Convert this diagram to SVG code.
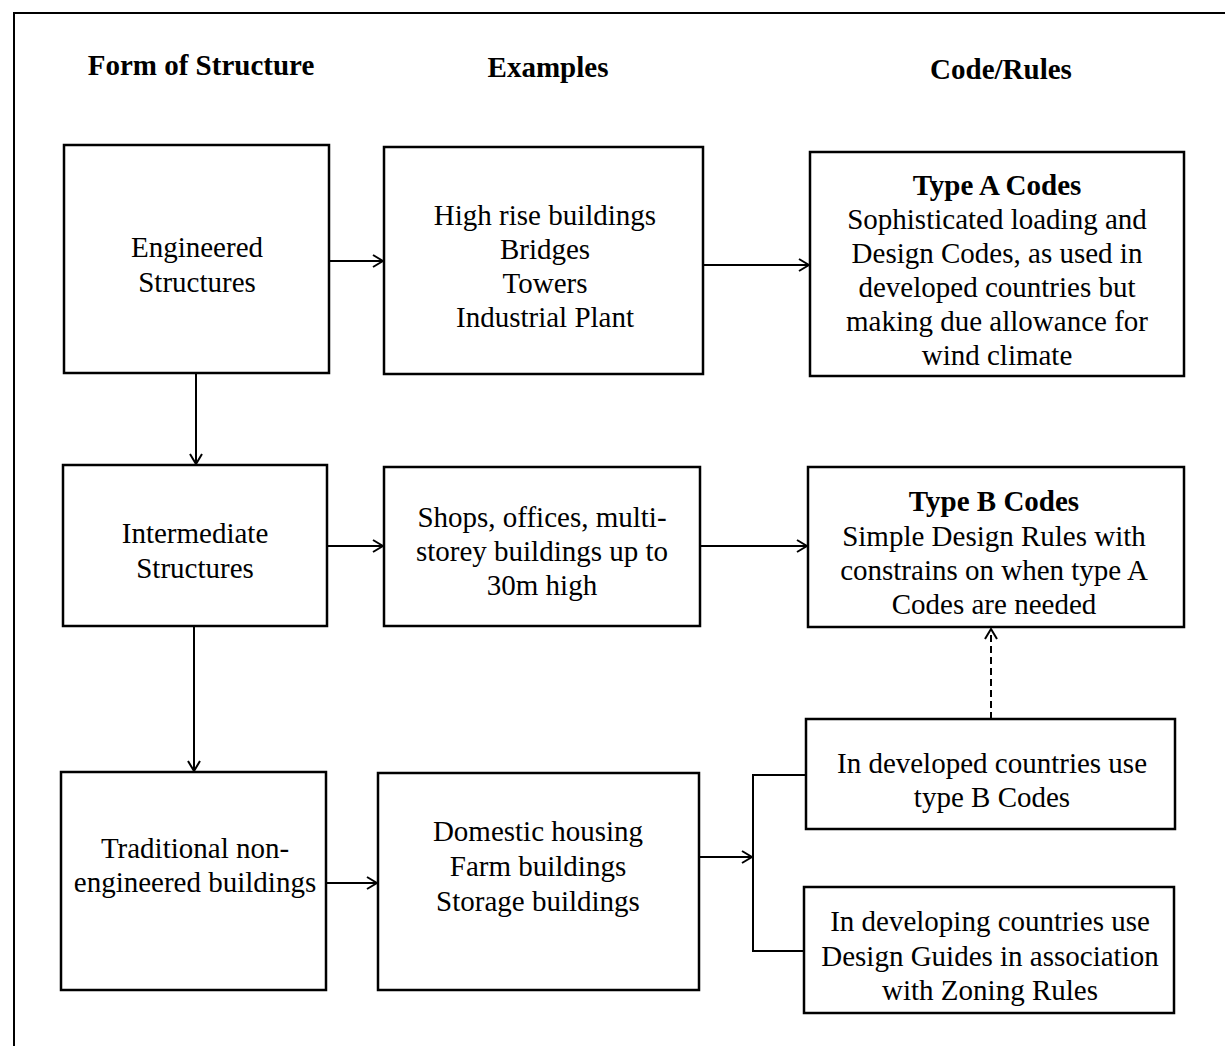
<svg xmlns="http://www.w3.org/2000/svg" width="1225" height="1046" viewBox="0 0 1225 1046">
<style>
.box{fill:#fff;stroke:#000;stroke-width:2.5}
.t{font-family:"Liberation Serif","Times New Roman",serif;font-size:29px;fill:#000;text-anchor:middle}
.b{font-weight:bold}
.h{font-family:"Liberation Serif","Times New Roman",serif;font-size:29px;font-weight:bold;fill:#000;text-anchor:middle}
.c{fill:none;stroke:#000;stroke-width:2}
.d{fill:none;stroke:#000;stroke-width:2;stroke-dasharray:7 4}
</style>
<defs>
<marker id="ah" viewBox="0 0 12 14" refX="11" refY="7" markerWidth="12" markerHeight="14" markerUnits="userSpaceOnUse" orient="auto">
<path d="M1,1 L11,7 L1,13" fill="none" stroke="#000" stroke-width="2"/>
</marker>
</defs>
<rect width="1225" height="1046" fill="#fff"/>
<path d="M14,1046 L14,13 L1225,13" fill="none" stroke="#000" stroke-width="2"/>
<g id="headers">
<text class="h" x="201" y="75">Form of Structure</text>
<text class="h" x="548" y="77">Examples</text>
<text class="h" x="1001" y="79">Code/Rules</text>
</g>
<g id="connectors">
<line class="c" x1="329" y1="261" x2="383" y2="261" marker-end="url(#ah)"/>
<line class="c" x1="703" y1="265" x2="809" y2="265" marker-end="url(#ah)"/>
<line class="c" x1="196" y1="373" x2="196" y2="464" marker-end="url(#ah)"/>
<line class="c" x1="327" y1="546" x2="383" y2="546" marker-end="url(#ah)"/>
<line class="c" x1="700" y1="546" x2="807" y2="546" marker-end="url(#ah)"/>
<line class="c" x1="194" y1="626" x2="194" y2="771" marker-end="url(#ah)"/>
<line class="c" x1="326" y1="883" x2="377" y2="883" marker-end="url(#ah)"/>
<line class="c" x1="699" y1="857" x2="752" y2="857" marker-end="url(#ah)"/>
<path class="c" d="M806,775 L753,775 L753,951 L804,951"/>
<line class="d" x1="991" y1="719" x2="991" y2="629" marker-end="url(#ah)"/>
</g>
<g id="engineered">
<rect class="box" x="64" y="145" width="265" height="228"/>
<text class="t" x="197" y="257">Engineered</text>
<text class="t" x="197" y="292">Structures</text>
</g>
<g id="highrise">
<rect class="box" x="384" y="147" width="319" height="227"/>
<text class="t" x="545" y="225">High rise buildings</text>
<text class="t" x="545" y="259">Bridges</text>
<text class="t" x="545" y="293">Towers</text>
<text class="t" x="545" y="327">Industrial Plant</text>
</g>
<g id="typeA">
<rect class="box" x="810" y="152" width="374" height="224"/>
<text class="t b" x="997" y="195">Type A Codes</text>
<text class="t" x="997" y="229">Sophisticated loading and</text>
<text class="t" x="997" y="263">Design Codes, as used in</text>
<text class="t" x="997" y="297">developed countries but</text>
<text class="t" x="997" y="331">making due allowance for</text>
<text class="t" x="997" y="365">wind climate</text>
</g>
<g id="intermediate">
<rect class="box" x="63" y="465" width="264" height="161"/>
<text class="t" x="195" y="543">Intermediate</text>
<text class="t" x="195" y="578">Structures</text>
</g>
<g id="shops">
<rect class="box" x="384" y="467" width="316" height="159"/>
<text class="t" x="542" y="527">Shops, offices, multi-</text>
<text class="t" x="542" y="561">storey buildings up to</text>
<text class="t" x="542" y="595">30m high</text>
</g>
<g id="typeB">
<rect class="box" x="808" y="467" width="376" height="160"/>
<text class="t b" x="994" y="511">Type B Codes</text>
<text class="t" x="994" y="546">Simple Design Rules with</text>
<text class="t" x="994" y="580">constrains on when type A</text>
<text class="t" x="994" y="614">Codes are needed</text>
</g>
<g id="traditional">
<rect class="box" x="61" y="772" width="265" height="218"/>
<text class="t" x="195" y="858">Traditional non-</text>
<text class="t" x="195" y="892">engineered buildings</text>
</g>
<g id="domestic">
<rect class="box" x="378" y="773" width="321" height="217"/>
<text class="t" x="538" y="841">Domestic housing</text>
<text class="t" x="538" y="876">Farm buildings</text>
<text class="t" x="538" y="911">Storage buildings</text>
</g>
<g id="developed">
<rect class="box" x="806" y="719" width="369" height="110"/>
<text class="t" x="992" y="773">In developed countries use</text>
<text class="t" x="992" y="807">type B Codes</text>
</g>
<g id="developing">
<rect class="box" x="804" y="887" width="370" height="126"/>
<text class="t" x="990" y="931">In developing countries use</text>
<text class="t" x="990" y="966">Design Guides in association</text>
<text class="t" x="990" y="1000">with Zoning Rules</text>
</g>
</svg>
